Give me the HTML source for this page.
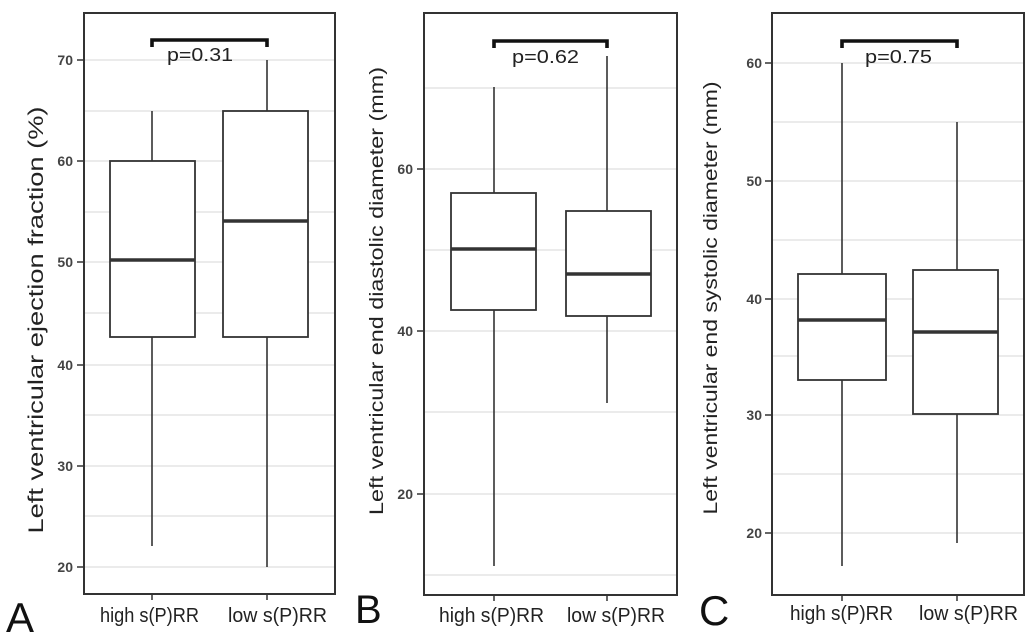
<!DOCTYPE html>
<html>
<head>
<meta charset="utf-8">
<style>
html,body{margin:0;padding:0;background:#fff;}
svg{display:block;}
text{font-family:"Liberation Sans",Arial,sans-serif;}
.tk{font-size:14px;font-weight:bold;fill:#444;text-anchor:end;}
.grid{stroke:#ebebeb;stroke-width:2;}
.box{fill:#fff;stroke:#333;stroke-width:1.8;}
.med{stroke:#333;stroke-width:3.6;}
.wh{stroke:#333;stroke-width:1.6;}
.brd{fill:none;stroke:#333;stroke-width:2;}
.br{fill:none;stroke:#111;stroke-width:3.6;}
.ax{stroke:#333;stroke-width:1.5;}
</style>
</head>
<body>
<svg width="1031" height="640" viewBox="0 0 1031 640" xmlns="http://www.w3.org/2000/svg">
<rect width="1031" height="640" fill="#fff"/>

<!-- ============ Panel A ============ -->
<g>
  <line class="grid" x1="85" x2="334" y1="60" y2="60"/>
  <line class="grid" x1="85" x2="334" y1="111" y2="111"/>
  <line class="grid" x1="85" x2="334" y1="161" y2="161"/>
  <line class="grid" x1="85" x2="334" y1="212" y2="212"/>
  <line class="grid" x1="85" x2="334" y1="262" y2="262"/>
  <line class="grid" x1="85" x2="334" y1="313" y2="313"/>
  <line class="grid" x1="85" x2="334" y1="365" y2="365"/>
  <line class="grid" x1="85" x2="334" y1="415" y2="415"/>
  <line class="grid" x1="85" x2="334" y1="466" y2="466"/>
  <line class="grid" x1="85" x2="334" y1="516" y2="516"/>
  <line class="grid" x1="85" x2="334" y1="567" y2="567"/>
  <line class="wh" x1="152" x2="152" y1="111" y2="161"/>
  <line class="wh" x1="152" x2="152" y1="337" y2="546"/>
  <rect class="box" x="110" y="161" width="85" height="176"/>
  <line class="med" x1="110" x2="195" y1="260" y2="260"/>
  <line class="wh" x1="267" x2="267" y1="60" y2="111"/>
  <line class="wh" x1="267" x2="267" y1="337" y2="567"/>
  <rect class="box" x="223" y="111" width="85" height="226"/>
  <line class="med" x1="223" x2="308" y1="221" y2="221"/>
  <rect class="brd" x="84" y="13" width="251" height="581"/>
  <line class="ax" x1="77" x2="84" y1="60" y2="60"/>
  <line class="ax" x1="77" x2="84" y1="161" y2="161"/>
  <line class="ax" x1="77" x2="84" y1="262" y2="262"/>
  <line class="ax" x1="77" x2="84" y1="365" y2="365"/>
  <line class="ax" x1="77" x2="84" y1="466" y2="466"/>
  <line class="ax" x1="77" x2="84" y1="567" y2="567"/>
  <text class="tk" x="73" y="65">70</text>
  <text class="tk" x="73" y="166">60</text>
  <text class="tk" x="73" y="267">50</text>
  <text class="tk" x="73" y="370">40</text>
  <text class="tk" x="73" y="471">30</text>
  <text class="tk" x="73" y="572">20</text>
  <line class="ax" x1="152" x2="152" y1="594" y2="600"/>
  <line class="ax" x1="267" x2="267" y1="594" y2="600"/>
  <text x="100" y="622" font-size="20" fill="#222" textLength="99" lengthAdjust="spacingAndGlyphs">high s(P)RR</text>
  <text x="228" y="622" font-size="20" fill="#222" textLength="99" lengthAdjust="spacingAndGlyphs">low s(P)RR</text>
  <text transform="translate(43,320) rotate(-90)" text-anchor="middle" font-size="21" fill="#222" textLength="427" lengthAdjust="spacingAndGlyphs">Left ventricular ejection fraction (%)</text>
  <path class="br" d="M152,47 V40 H267 V47"/>
  <text x="167" y="61" font-size="18" fill="#222" textLength="66" lengthAdjust="spacingAndGlyphs">p=0.31</text>
  <text x="6" y="632" font-size="42" fill="#111">A</text>
</g>

<!-- ============ Panel B ============ -->
<g>
  <line class="grid" x1="425" x2="676" y1="88" y2="88"/>
  <line class="grid" x1="425" x2="676" y1="169" y2="169"/>
  <line class="grid" x1="425" x2="676" y1="250" y2="250"/>
  <line class="grid" x1="425" x2="676" y1="331" y2="331"/>
  <line class="grid" x1="425" x2="676" y1="412" y2="412"/>
  <line class="grid" x1="425" x2="676" y1="494" y2="494"/>
  <line class="grid" x1="425" x2="676" y1="575" y2="575"/>
  <line class="wh" x1="494" x2="494" y1="87" y2="193"/>
  <line class="wh" x1="494" x2="494" y1="310" y2="566"/>
  <rect class="box" x="451" y="193" width="85" height="117"/>
  <line class="med" x1="451" x2="536" y1="249" y2="249"/>
  <line class="wh" x1="607" x2="607" y1="56" y2="211"/>
  <line class="wh" x1="607" x2="607" y1="316" y2="403"/>
  <rect class="box" x="566" y="211" width="85" height="105"/>
  <line class="med" x1="566" x2="651" y1="274" y2="274"/>
  <rect class="brd" x="424" y="13" width="253" height="582"/>
  <line class="ax" x1="417" x2="424" y1="169" y2="169"/>
  <line class="ax" x1="417" x2="424" y1="331" y2="331"/>
  <line class="ax" x1="417" x2="424" y1="494" y2="494"/>
  <text class="tk" x="413" y="174">60</text>
  <text class="tk" x="413" y="336">40</text>
  <text class="tk" x="413" y="499">20</text>
  <line class="ax" x1="494" x2="494" y1="595" y2="601"/>
  <line class="ax" x1="607" x2="607" y1="595" y2="601"/>
  <text x="439" y="622" font-size="20" fill="#222" textLength="105" lengthAdjust="spacingAndGlyphs">high s(P)RR</text>
  <text x="567" y="622" font-size="20" fill="#222" textLength="98" lengthAdjust="spacingAndGlyphs">low s(P)RR</text>
  <text transform="translate(383,291) rotate(-90)" text-anchor="middle" font-size="19.5" fill="#222" textLength="448" lengthAdjust="spacingAndGlyphs">Left ventricular end diastolic diameter (mm)</text>
  <path class="br" d="M494,48 V41 H607 V48"/>
  <text x="512" y="63" font-size="18" fill="#222" textLength="67" lengthAdjust="spacingAndGlyphs">p=0.62</text>
  <text x="355" y="623" font-size="40" fill="#111">B</text>
</g>

<!-- ============ Panel C ============ -->
<g>
  <line class="grid" x1="773" x2="1023" y1="63" y2="63"/>
  <line class="grid" x1="773" x2="1023" y1="122" y2="122"/>
  <line class="grid" x1="773" x2="1023" y1="181" y2="181"/>
  <line class="grid" x1="773" x2="1023" y1="240" y2="240"/>
  <line class="grid" x1="773" x2="1023" y1="299" y2="299"/>
  <line class="grid" x1="773" x2="1023" y1="356" y2="356"/>
  <line class="grid" x1="773" x2="1023" y1="415" y2="415"/>
  <line class="grid" x1="773" x2="1023" y1="474" y2="474"/>
  <line class="grid" x1="773" x2="1023" y1="533" y2="533"/>
  <line class="wh" x1="842" x2="842" y1="63" y2="274"/>
  <line class="wh" x1="842" x2="842" y1="380" y2="566"/>
  <rect class="box" x="798" y="274" width="88" height="106"/>
  <line class="med" x1="798" x2="886" y1="320" y2="320"/>
  <line class="wh" x1="957" x2="957" y1="122" y2="270"/>
  <line class="wh" x1="957" x2="957" y1="414" y2="543"/>
  <rect class="box" x="913" y="270" width="85" height="144"/>
  <line class="med" x1="913" x2="998" y1="332" y2="332"/>
  <rect class="brd" x="772" y="13" width="252" height="582"/>
  <line class="ax" x1="765" x2="772" y1="63" y2="63"/>
  <line class="ax" x1="765" x2="772" y1="181" y2="181"/>
  <line class="ax" x1="765" x2="772" y1="299" y2="299"/>
  <line class="ax" x1="765" x2="772" y1="415" y2="415"/>
  <line class="ax" x1="765" x2="772" y1="533" y2="533"/>
  <text class="tk" x="762" y="68">60</text>
  <text class="tk" x="762" y="186">50</text>
  <text class="tk" x="762" y="304">40</text>
  <text class="tk" x="762" y="420">30</text>
  <text class="tk" x="762" y="538">20</text>
  <line class="ax" x1="842" x2="842" y1="595" y2="601"/>
  <line class="ax" x1="957" x2="957" y1="595" y2="601"/>
  <text x="790" y="620" font-size="20" fill="#222" textLength="103" lengthAdjust="spacingAndGlyphs">high s(P)RR</text>
  <text x="919" y="620" font-size="20" fill="#222" textLength="99" lengthAdjust="spacingAndGlyphs">low s(P)RR</text>
  <text transform="translate(717,298) rotate(-90)" text-anchor="middle" font-size="19.5" fill="#222" textLength="433" lengthAdjust="spacingAndGlyphs">Left ventricular end systolic diameter (mm)</text>
  <path class="br" d="M842,48 V41 H957 V48"/>
  <text x="865" y="63" font-size="18" fill="#222" textLength="67" lengthAdjust="spacingAndGlyphs">p=0.75</text>
  <text x="699" y="625" font-size="42" fill="#111">C</text>
</g>
</svg>
</body>
</html>
